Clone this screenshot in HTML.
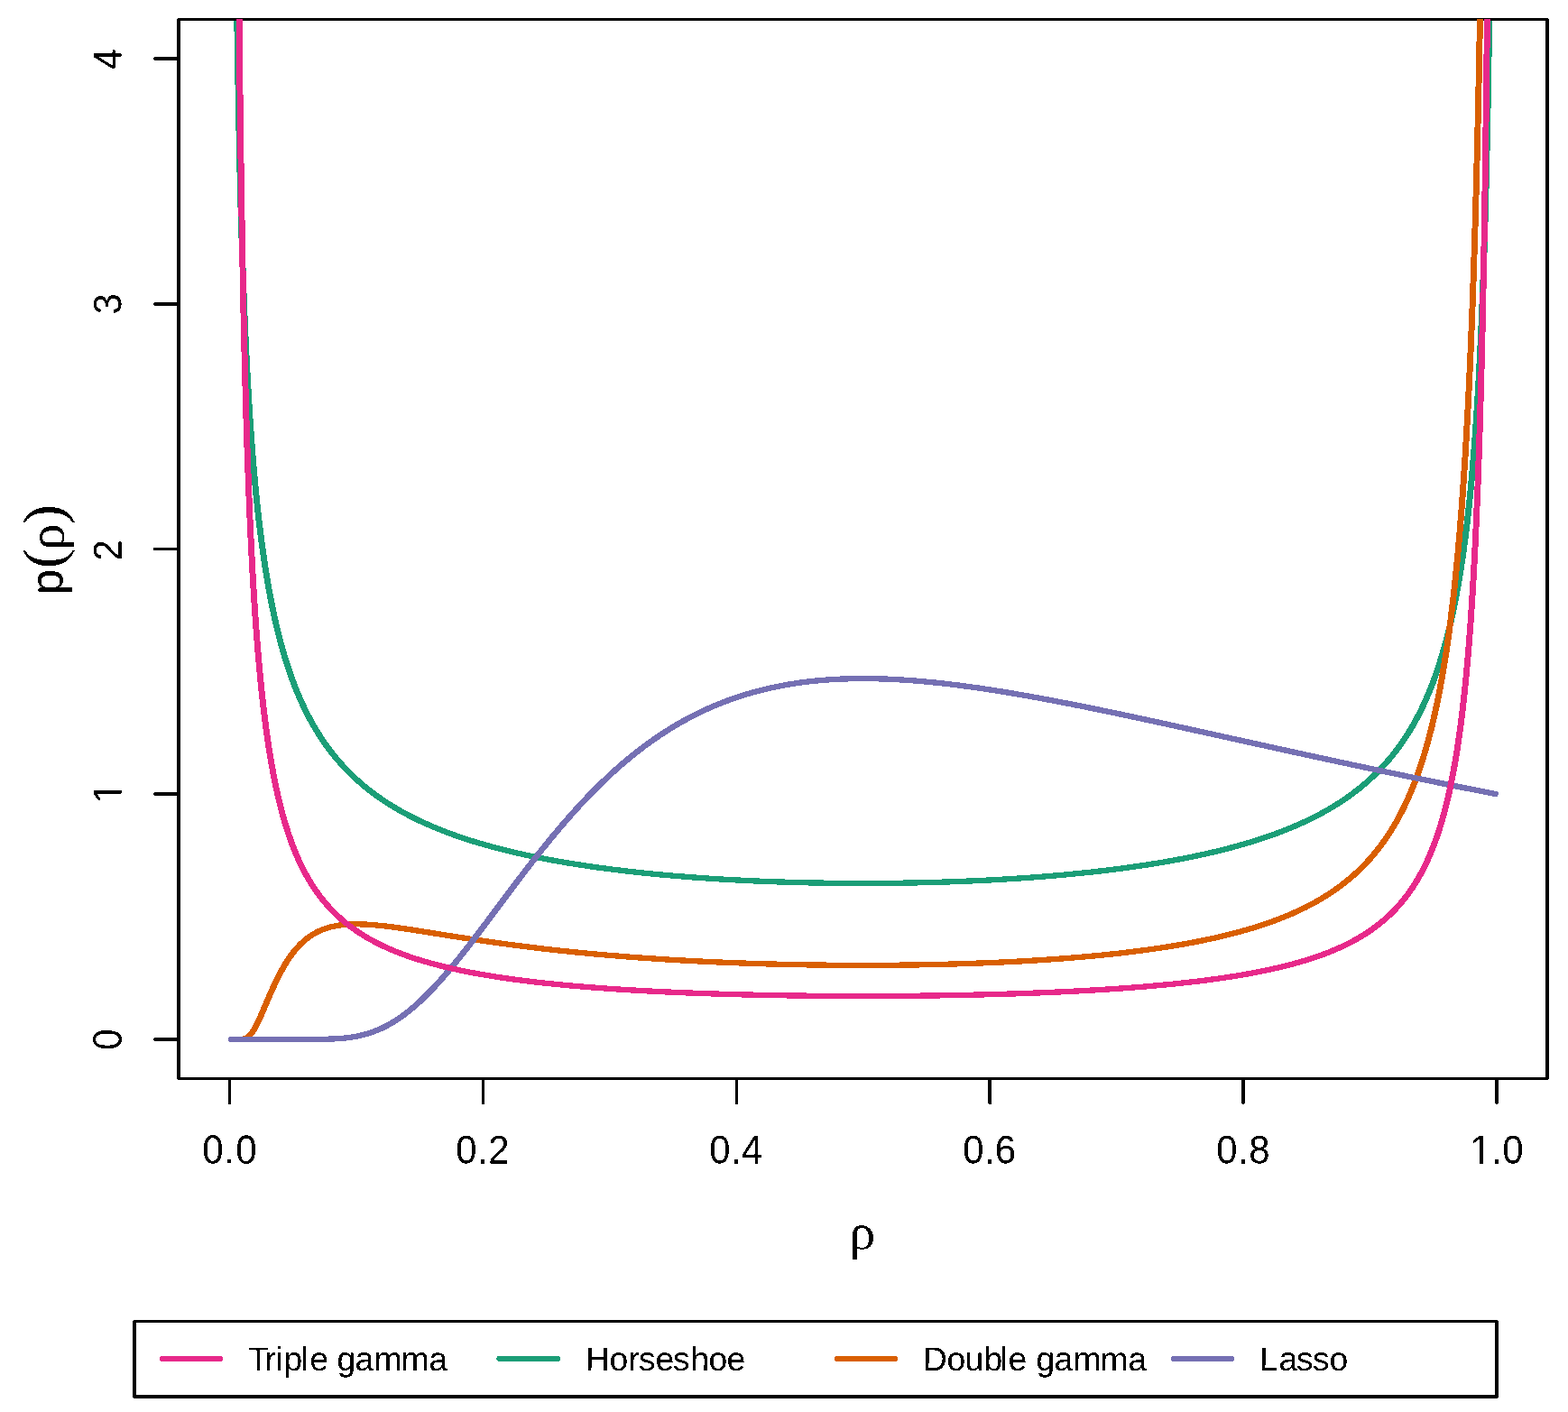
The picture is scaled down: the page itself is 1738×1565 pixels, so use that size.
<!DOCTYPE html>
<html lang="en"><head><meta charset="utf-8"><title>Shrinkage profiles</title>
<style>html,body{margin:0;padding:0;background:#fff;overflow:hidden}svg{display:block}text{font-family:"Liberation Sans",sans-serif;fill:#000;font-kerning:none;white-space:pre}.sym{font-family:"Liberation Serif",serif}</style></head><body>
<svg width="1738" height="1565" viewBox="0 0 1738 1565">
<rect width="1738" height="1565" fill="#fff"/>
<defs><clipPath id="clip"><rect x="198.0" y="21.0" width="1517.0" height="1174.5"/></clipPath><filter id="bw" x="-5%" y="-5%" width="110%" height="110%" color-interpolation-filters="sRGB"><feComponentTransfer><feFuncA type="discrete" tableValues="0 1"/></feComponentTransfer></filter><clipPath id="c1x"><path d="M-5.71,-36.16H24.15V-3.98H15.15V1H10.9V-3.98H-5.71ZM24.15,-45.2h54.24v58.76h-54.24z"/></clipPath><clipPath id="c1y"><path d="M-14.85,-36.16H15.01V-3.98H6.01V1H1.76V-3.98H-14.85Z"/></clipPath></defs>
<!-- Horseshoe -->
<g clip-path="url(#clip)"><g transform="scale(1.1,1)" fill="none" stroke-width="6.3" stroke-linecap="round" stroke-linejoin="round" shape-rendering="crispEdges">
<path d="M233.92,-478.50L235.19,-429.65L236.47,-218.44L237.75,-74.37L239.02,31.92L240.30,114.48L241.58,181.00L242.85,236.07L244.13,282.64L245.41,322.67L246.69,357.58L247.96,388.36L249.24,415.76L250.52,440.37L251.79,462.61L253.07,482.86L254.35,501.38L255.62,518.41L256.90,534.14L258.18,548.72L259.45,562.29L260.73,574.96L262.01,586.82L263.28,597.95L264.56,608.43L265.84,618.32L267.11,627.67L268.39,636.52L269.67,644.92L270.94,652.91L272.22,660.52L273.50,667.77L274.78,674.70L276.05,681.32L277.33,687.67L278.61,693.75L279.88,699.58L281.16,705.19L282.44,710.58L283.71,715.77L284.99,720.77L286.27,725.59L287.54,730.24L288.82,734.74L290.10,739.08L291.37,743.28L292.65,747.35L293.93,751.29L295.20,755.11L296.48,758.81L297.76,762.40L299.03,765.89L300.31,769.28L301.59,772.58L302.87,775.78L304.14,778.90L305.42,781.93L306.70,784.89L307.97,787.77L309.25,790.57L310.53,793.31L311.80,795.98L313.08,798.58L314.36,801.12L315.63,803.60L316.91,806.03L318.19,808.40L319.46,810.71L320.74,812.98L322.02,815.19L323.29,817.36L324.57,819.48L325.85,821.56L327.12,823.59L328.40,825.58L329.68,827.53L330.96,829.44L332.23,831.32L333.51,833.15L334.79,834.96L336.06,836.72L337.34,838.46L338.62,840.16L339.89,841.83L341.17,843.47L342.45,845.08L343.72,846.66L345.00,848.22L346.28,849.74L347.55,851.24L348.83,852.72L350.11,854.17L351.38,855.59L352.66,856.99L353.94,858.37L355.21,859.73L356.49,861.06L357.77,862.37L359.05,863.66L360.32,864.94L361.60,866.19L362.88,867.42L364.15,868.63L365.43,869.83L366.71,871.01L367.98,872.16L369.26,873.31L370.54,874.43L371.81,875.54L373.09,876.64L374.37,877.71L375.64,878.78L376.92,879.82L378.20,880.86L379.47,881.88L380.75,882.88L382.03,883.87L383.30,884.85L384.58,885.81L385.86,886.76L387.14,887.70L388.41,888.63L389.69,889.54L390.97,890.45L392.24,891.34L393.52,892.22L394.80,893.09L396.07,893.94L397.35,894.79L398.63,895.63L399.90,896.45L401.18,897.27L402.46,898.07L403.73,898.87L405.01,899.66L406.29,900.43L407.56,901.20L408.84,901.96L410.12,902.71L411.39,903.45L412.67,904.18L413.95,904.91L415.23,905.62L416.50,906.33L417.78,907.03L419.06,907.72L420.33,908.40L421.61,909.08L422.89,909.75L424.16,910.41L425.44,911.06L426.72,911.71L427.99,912.35L429.27,912.98L430.55,913.61L431.82,914.23L433.10,914.84L434.38,915.45L435.65,916.05L436.93,916.64L438.21,917.23L439.48,917.81L440.76,918.39L442.04,918.96L443.32,919.52L444.59,920.08L445.87,920.63L447.15,921.18L448.42,921.72L449.70,922.26L450.98,922.79L452.25,923.31L453.53,923.83L454.81,924.35L456.08,924.86L457.36,925.36L458.64,925.86L459.91,926.36L461.19,926.85L462.47,927.33L463.74,927.81L465.02,928.29L466.30,928.76L467.57,929.23L468.85,929.69L470.13,930.15L471.41,930.61L472.68,931.06L473.96,931.50L475.24,931.95L476.51,932.38L477.79,932.82L479.07,933.25L480.34,933.67L481.62,934.10L482.90,934.52L484.17,934.93L485.45,935.34L486.73,935.75L488.00,936.15L489.28,936.55L490.56,936.95L491.83,937.34L493.11,937.73L494.39,938.12L495.67,938.50L496.94,938.88L498.22,939.26L499.50,939.63L500.77,940.00L502.05,940.36L503.33,940.73L504.60,941.09L505.88,941.44L507.16,941.80L508.43,942.15L509.71,942.50L510.99,942.84L512.26,943.19L513.54,943.52L514.82,943.86L516.09,944.19L517.37,944.53L518.65,944.85L519.92,945.18L521.20,945.50L522.48,945.82L523.75,946.14L525.03,946.45L526.31,946.77L527.59,947.07L528.86,947.38L530.14,947.69L531.42,947.99L532.69,948.29L533.97,948.58L535.25,948.88L536.52,949.17L537.80,949.46L539.08,949.75L540.35,950.03L541.63,950.32L542.91,950.60L544.18,950.88L545.46,951.15L546.74,951.43L548.01,951.70L549.29,951.97L550.57,952.24L551.84,952.50L553.12,952.76L554.40,953.02L555.68,953.28L556.95,953.54L558.23,953.80L559.51,954.05L560.78,954.30L562.06,954.55L563.34,954.80L564.61,955.04L565.89,955.28L567.17,955.52L568.44,955.76L569.72,956.00L571.00,956.24L572.27,956.47L573.55,956.70L574.83,956.93L576.10,957.16L577.38,957.39L578.66,957.61L579.93,957.83L581.21,958.06L582.49,958.28L583.77,958.49L585.04,958.71L586.32,958.92L587.60,959.14L588.87,959.35L590.15,959.56L591.43,959.76L592.70,959.97L593.98,960.18L595.26,960.38L596.53,960.58L597.81,960.78L599.09,960.98L600.36,961.17L601.64,961.37L602.92,961.56L604.19,961.76L605.47,961.95L606.75,962.14L608.02,962.32L609.30,962.51L610.58,962.69L611.86,962.88L613.13,963.06L614.41,963.24L615.69,963.42L616.96,963.60L618.24,963.77L619.52,963.95L620.79,964.12L622.07,964.29L623.35,964.46L624.62,964.63L625.90,964.80L627.18,964.97L628.45,965.13L629.73,965.30L631.01,965.46L632.28,965.62L633.56,965.78L634.84,965.94L636.11,966.10L637.39,966.26L638.67,966.41L639.95,966.57L641.22,966.72L642.50,966.87L643.78,967.02L645.05,967.17L646.33,967.32L647.61,967.46L648.88,967.61L650.16,967.75L651.44,967.90L652.71,968.04L653.99,968.18L655.27,968.32L656.54,968.46L657.82,968.60L659.10,968.73L660.37,968.87L661.65,969.00L662.93,969.13L664.21,969.27L665.48,969.40L666.76,969.53L668.04,969.66L669.31,969.78L670.59,969.91L671.87,970.03L673.14,970.16L674.42,970.28L675.70,970.40L676.97,970.53L678.25,970.65L679.53,970.76L680.80,970.88L682.08,971.00L683.36,971.12L684.63,971.23L685.91,971.34L687.19,971.46L688.46,971.57L689.74,971.68L691.02,971.79L692.29,971.90L693.57,972.01L694.85,972.11L696.13,972.22L697.40,972.33L698.68,972.43L699.96,972.53L701.23,972.64L702.51,972.74L703.79,972.84L705.06,972.94L706.34,973.03L707.62,973.13L708.89,973.23L710.17,973.32L711.45,973.42L712.72,973.51L714.00,973.61L715.28,973.70L716.55,973.79L717.83,973.88L719.11,973.97L720.38,974.06L721.66,974.15L722.94,974.23L724.22,974.32L725.49,974.40L726.77,974.49L728.05,974.57L729.32,974.65L730.60,974.74L731.88,974.82L733.15,974.90L734.43,974.97L735.71,975.05L736.98,975.13L738.26,975.21L739.54,975.28L740.81,975.36L742.09,975.43L743.37,975.50L744.64,975.58L745.92,975.65L747.20,975.72L748.47,975.79L749.75,975.86L751.03,975.93L752.31,975.99L753.58,976.06L754.86,976.13L756.14,976.19L757.41,976.26L758.69,976.32L759.97,976.38L761.24,976.44L762.52,976.50L763.80,976.56L765.07,976.62L766.35,976.68L767.63,976.74L768.90,976.80L770.18,976.85L771.46,976.91L772.73,976.96L774.01,977.02L775.29,977.07L776.56,977.12L777.84,977.18L779.12,977.23L780.40,977.28L781.67,977.33L782.95,977.38L784.23,977.42L785.50,977.47L786.78,977.52L788.06,977.56L789.33,977.61L790.61,977.65L791.89,977.70L793.16,977.74L794.44,977.78L795.72,977.82L796.99,977.86L798.27,977.90L799.55,977.94L800.82,977.98L802.10,978.02L803.38,978.06L804.65,978.09L805.93,978.13L807.21,978.16L808.49,978.20L809.76,978.23L811.04,978.26L812.32,978.29L813.59,978.32L814.87,978.36L816.15,978.38L817.42,978.41L818.70,978.44L819.98,978.47L821.25,978.50L822.53,978.52L823.81,978.55L825.08,978.57L826.36,978.60L827.64,978.62L828.91,978.64L830.19,978.67L831.47,978.69L832.74,978.71L834.02,978.73L835.30,978.75L836.58,978.76L837.85,978.78L839.13,978.80L840.41,978.82L841.68,978.83L842.96,978.85L844.24,978.86L845.51,978.87L846.79,978.89L848.07,978.90L849.34,978.91L850.62,978.92L851.90,978.93L853.17,978.94L854.45,978.95L855.73,978.96L857.00,978.96L858.28,978.97L859.56,978.98L860.83,978.98L862.11,978.99L863.39,978.99L864.67,978.99L865.94,979.00L867.22,979.00L868.50,979.00L869.77,979.00L871.05,979.00L872.33,979.00L873.60,979.00L874.88,978.99L876.16,978.99L877.43,978.99L878.71,978.98L879.99,978.98L881.26,978.97L882.54,978.96L883.82,978.96L885.09,978.95L886.37,978.94L887.65,978.93L888.92,978.92L890.20,978.91L891.48,978.90L892.76,978.89L894.03,978.87L895.31,978.86L896.59,978.85L897.86,978.83L899.14,978.82L900.42,978.80L901.69,978.78L902.97,978.76L904.25,978.75L905.52,978.73L906.80,978.71L908.08,978.69L909.35,978.67L910.63,978.64L911.91,978.62L913.18,978.60L914.46,978.57L915.74,978.55L917.01,978.52L918.29,978.50L919.57,978.47L920.85,978.44L922.12,978.41L923.40,978.38L924.68,978.36L925.95,978.32L927.23,978.29L928.51,978.26L929.78,978.23L931.06,978.20L932.34,978.16L933.61,978.13L934.89,978.09L936.17,978.06L937.44,978.02L938.72,977.98L940.00,977.94L941.27,977.90L942.55,977.86L943.83,977.82L945.11,977.78L946.38,977.74L947.66,977.70L948.94,977.65L950.21,977.61L951.49,977.56L952.77,977.52L954.04,977.47L955.32,977.42L956.60,977.38L957.87,977.33L959.15,977.28L960.43,977.23L961.70,977.18L962.98,977.12L964.26,977.07L965.53,977.02L966.81,976.96L968.09,976.91L969.36,976.85L970.64,976.80L971.92,976.74L973.19,976.68L974.47,976.62L975.75,976.56L977.03,976.50L978.30,976.44L979.58,976.38L980.86,976.32L982.13,976.26L983.41,976.19L984.69,976.13L985.96,976.06L987.24,975.99L988.52,975.93L989.79,975.86L991.07,975.79L992.35,975.72L993.62,975.65L994.90,975.58L996.18,975.50L997.45,975.43L998.73,975.36L1000.01,975.28L1001.28,975.21L1002.56,975.13L1003.84,975.05L1005.12,974.97L1006.39,974.90L1007.67,974.82L1008.95,974.74L1010.22,974.65L1011.50,974.57L1012.78,974.49L1014.05,974.40L1015.33,974.32L1016.61,974.23L1017.88,974.15L1019.16,974.06L1020.44,973.97L1021.71,973.88L1022.99,973.79L1024.27,973.70L1025.54,973.61L1026.82,973.51L1028.10,973.42L1029.38,973.32L1030.65,973.23L1031.93,973.13L1033.21,973.03L1034.48,972.94L1035.76,972.84L1037.04,972.74L1038.31,972.64L1039.59,972.53L1040.87,972.43L1042.14,972.33L1043.42,972.22L1044.70,972.11L1045.97,972.01L1047.25,971.90L1048.53,971.79L1049.80,971.68L1051.08,971.57L1052.36,971.46L1053.63,971.34L1054.91,971.23L1056.19,971.12L1057.46,971.00L1058.74,970.88L1060.02,970.76L1061.30,970.65L1062.57,970.53L1063.85,970.40L1065.13,970.28L1066.40,970.16L1067.68,970.03L1068.96,969.91L1070.23,969.78L1071.51,969.66L1072.79,969.53L1074.06,969.40L1075.34,969.27L1076.62,969.13L1077.89,969.00L1079.17,968.87L1080.45,968.73L1081.72,968.60L1083.00,968.46L1084.28,968.32L1085.55,968.18L1086.83,968.04L1088.11,967.90L1089.39,967.75L1090.66,967.61L1091.94,967.46L1093.22,967.32L1094.49,967.17L1095.77,967.02L1097.05,966.87L1098.32,966.72L1099.60,966.57L1100.88,966.41L1102.15,966.26L1103.43,966.10L1104.71,965.94L1105.98,965.78L1107.26,965.62L1108.54,965.46L1109.81,965.30L1111.09,965.13L1112.37,964.97L1113.64,964.80L1114.92,964.63L1116.20,964.46L1117.48,964.29L1118.75,964.12L1120.03,963.95L1121.31,963.77L1122.58,963.60L1123.86,963.42L1125.14,963.24L1126.41,963.06L1127.69,962.88L1128.97,962.69L1130.24,962.51L1131.52,962.32L1132.80,962.14L1134.07,961.95L1135.35,961.76L1136.63,961.56L1137.90,961.37L1139.18,961.17L1140.46,960.98L1141.73,960.78L1143.01,960.58L1144.29,960.38L1145.57,960.18L1146.84,959.97L1148.12,959.76L1149.40,959.56L1150.67,959.35L1151.95,959.14L1153.23,958.92L1154.50,958.71L1155.78,958.49L1157.06,958.28L1158.33,958.06L1159.61,957.83L1160.89,957.61L1162.16,957.39L1163.44,957.16L1164.72,956.93L1165.99,956.70L1167.27,956.47L1168.55,956.24L1169.82,956.00L1171.10,955.76L1172.38,955.52L1173.66,955.28L1174.93,955.04L1176.21,954.80L1177.49,954.55L1178.76,954.30L1180.04,954.05L1181.32,953.80L1182.59,953.54L1183.87,953.28L1185.15,953.02L1186.42,952.76L1187.70,952.50L1188.98,952.24L1190.25,951.97L1191.53,951.70L1192.81,951.43L1194.08,951.15L1195.36,950.88L1196.64,950.60L1197.91,950.32L1199.19,950.03L1200.47,949.75L1201.75,949.46L1203.02,949.17L1204.30,948.88L1205.58,948.58L1206.85,948.29L1208.13,947.99L1209.41,947.69L1210.68,947.38L1211.96,947.07L1213.24,946.77L1214.51,946.45L1215.79,946.14L1217.07,945.82L1218.34,945.50L1219.62,945.18L1220.90,944.85L1222.17,944.53L1223.45,944.19L1224.73,943.86L1226.01,943.52L1227.28,943.19L1228.56,942.84L1229.84,942.50L1231.11,942.15L1232.39,941.80L1233.67,941.44L1234.94,941.09L1236.22,940.73L1237.50,940.36L1238.77,940.00L1240.05,939.63L1241.33,939.26L1242.60,938.88L1243.88,938.50L1245.16,938.12L1246.43,937.73L1247.71,937.34L1248.99,936.95L1250.26,936.55L1251.54,936.15L1252.82,935.75L1254.09,935.34L1255.37,934.93L1256.65,934.52L1257.93,934.10L1259.20,933.67L1260.48,933.25L1261.76,932.82L1263.03,932.38L1264.31,931.95L1265.59,931.50L1266.86,931.06L1268.14,930.61L1269.42,930.15L1270.69,929.69L1271.97,929.23L1273.25,928.76L1274.52,928.29L1275.80,927.81L1277.08,927.33L1278.35,926.85L1279.63,926.36L1280.91,925.86L1282.18,925.36L1283.46,924.86L1284.74,924.35L1286.02,923.83L1287.29,923.31L1288.57,922.79L1289.85,922.26L1291.12,921.72L1292.40,921.18L1293.68,920.63L1294.95,920.08L1296.23,919.52L1297.51,918.96L1298.78,918.39L1300.06,917.81L1301.34,917.23L1302.61,916.64L1303.89,916.05L1305.17,915.45L1306.44,914.84L1307.72,914.23L1309.00,913.61L1310.27,912.98L1311.55,912.35L1312.83,911.71L1314.11,911.06L1315.38,910.41L1316.66,909.75L1317.94,909.08L1319.21,908.40L1320.49,907.72L1321.77,907.03L1323.04,906.33L1324.32,905.62L1325.60,904.91L1326.87,904.18L1328.15,903.45L1329.43,902.71L1330.70,901.96L1331.98,901.20L1333.26,900.43L1334.53,899.66L1335.81,898.87L1337.09,898.07L1338.36,897.27L1339.64,896.45L1340.92,895.63L1342.20,894.79L1343.47,893.94L1344.75,893.09L1346.03,892.22L1347.30,891.34L1348.58,890.45L1349.86,889.54L1351.13,888.63L1352.41,887.70L1353.69,886.76L1354.96,885.81L1356.24,884.85L1357.52,883.87L1358.79,882.88L1360.07,881.88L1361.35,880.86L1362.62,879.82L1363.90,878.78L1365.18,877.71L1366.45,876.64L1367.73,875.54L1369.01,874.43L1370.29,873.31L1371.56,872.16L1372.84,871.01L1374.12,869.83L1375.39,868.63L1376.67,867.42L1377.95,866.19L1379.22,864.94L1380.50,863.66L1381.78,862.37L1383.05,861.06L1384.33,859.73L1385.61,858.37L1386.88,856.99L1388.16,855.59L1389.44,854.17L1390.71,852.72L1391.99,851.24L1393.27,849.74L1394.55,848.22L1395.82,846.66L1397.10,845.08L1398.38,843.47L1399.65,841.83L1400.93,840.16L1402.21,838.46L1403.48,836.72L1404.76,834.96L1406.04,833.15L1407.31,831.32L1408.59,829.44L1409.87,827.53L1411.14,825.58L1412.42,823.59L1413.70,821.56L1414.97,819.48L1416.25,817.36L1417.53,815.19L1418.80,812.98L1420.08,810.71L1421.36,808.40L1422.63,806.03L1423.91,803.60L1425.19,801.12L1426.47,798.58L1427.74,795.98L1429.02,793.31L1430.30,790.57L1431.57,787.77L1432.85,784.89L1434.13,781.93L1435.40,778.90L1436.68,775.78L1437.96,772.58L1439.23,769.28L1440.51,765.89L1441.79,762.40L1443.06,758.81L1444.34,755.11L1445.62,751.29L1446.89,747.35L1448.17,743.28L1449.45,739.08L1450.72,734.74L1452.00,730.24L1453.28,725.59L1454.56,720.77L1455.83,715.77L1457.11,710.58L1458.39,705.19L1459.66,699.58L1460.94,693.75L1462.22,687.67L1463.49,681.32L1464.77,674.70L1466.05,667.77L1467.32,660.52L1468.60,652.91L1469.88,644.92L1471.15,636.52L1472.43,627.67L1473.71,618.32L1474.98,608.43L1476.26,597.95L1477.54,586.82L1478.81,574.96L1480.09,562.29L1481.37,548.72L1482.65,534.14L1483.92,518.41L1485.20,501.38L1486.48,482.86L1487.75,462.61L1489.03,440.37L1490.31,415.76L1491.58,388.36L1492.86,357.58L1494.14,322.67L1495.41,282.64L1496.69,236.07L1497.97,181.00L1499.24,114.48L1500.52,31.92L1501.80,-74.37L1503.07,-218.44L1504.35,-429.65L1505.63,-478.50" stroke="#1B9E77"/>
</g></g>
<!-- plot box and axes -->
<g fill="none" stroke="#000" stroke-width="3.5" stroke-linecap="round" stroke-linejoin="round" shape-rendering="crispEdges">
<rect x="198.0" y="21.5" width="1517.0" height="1174.0"/>
<path d="M254.5,1195.5H1659.0M254.5,1195.5v26.9M535.4,1195.5v26.9M816.3,1195.5v26.9M1097.2,1195.5v26.9M1378.1,1195.5v26.9M1659,1195.5v26.9"/>
<path d="M198.0,1152V65M198.0,1152h-26.4M198.0,880h-26.4M198.0,608.5h-26.4M198.0,337h-26.4M198.0,65h-26.4"/>
</g>
<!-- Double gamma, Lasso, Triple gamma -->
<g clip-path="url(#clip)"><g transform="scale(1.1,1)" fill="none" stroke-width="6.3" stroke-linecap="round" stroke-linejoin="round" shape-rendering="crispEdges">
<path d="M232.64,1152.00L233.92,1152.00L235.19,1152.00L236.47,1152.00L237.75,1152.00L239.02,1152.00L240.30,1152.00L241.58,1151.98L242.85,1151.93L244.13,1151.82L245.41,1151.59L246.69,1151.21L247.96,1150.62L249.24,1149.80L250.52,1148.72L251.79,1147.36L253.07,1145.72L254.35,1143.82L255.62,1141.66L256.90,1139.28L258.18,1136.69L259.45,1133.92L260.73,1131.00L262.01,1127.96L263.28,1124.82L264.56,1121.61L265.84,1118.35L267.11,1115.07L268.39,1111.77L269.67,1108.48L270.94,1105.21L272.22,1101.98L273.50,1098.79L274.78,1095.66L276.05,1092.59L277.33,1089.59L278.61,1086.66L279.88,1083.80L281.16,1081.03L282.44,1078.34L283.71,1075.74L284.99,1073.22L286.27,1070.79L287.54,1068.44L288.82,1066.17L290.10,1063.99L291.37,1061.90L292.65,1059.88L293.93,1057.95L295.20,1056.09L296.48,1054.31L297.76,1052.61L299.03,1050.98L300.31,1049.42L301.59,1047.93L302.87,1046.50L304.14,1045.14L305.42,1043.84L306.70,1042.60L307.97,1041.43L309.25,1040.30L310.53,1039.24L311.80,1038.22L313.08,1037.26L314.36,1036.34L315.63,1035.47L316.91,1034.65L318.19,1033.87L319.46,1033.13L320.74,1032.44L322.02,1031.78L323.29,1031.16L324.57,1030.58L325.85,1030.03L327.12,1029.51L328.40,1029.02L329.68,1028.57L330.96,1028.15L332.23,1027.75L333.51,1027.38L334.79,1027.04L336.06,1026.72L337.34,1026.43L338.62,1026.16L339.89,1025.91L341.17,1025.68L342.45,1025.48L343.72,1025.29L345.00,1025.12L346.28,1024.97L347.55,1024.84L348.83,1024.72L350.11,1024.62L351.38,1024.54L352.66,1024.47L353.94,1024.41L355.21,1024.37L356.49,1024.34L357.77,1024.32L359.05,1024.31L360.32,1024.32L361.60,1024.34L362.88,1024.36L364.15,1024.40L365.43,1024.45L366.71,1024.50L367.98,1024.57L369.26,1024.64L370.54,1024.72L371.81,1024.81L373.09,1024.90L374.37,1025.01L375.64,1025.12L376.92,1025.23L378.20,1025.35L379.47,1025.48L380.75,1025.61L382.03,1025.75L383.30,1025.90L384.58,1026.05L385.86,1026.20L387.14,1026.36L388.41,1026.52L389.69,1026.68L390.97,1026.85L392.24,1027.03L393.52,1027.20L394.80,1027.39L396.07,1027.57L397.35,1027.75L398.63,1027.94L399.90,1028.14L401.18,1028.33L402.46,1028.53L403.73,1028.72L405.01,1028.93L406.29,1029.13L407.56,1029.33L408.84,1029.54L410.12,1029.75L411.39,1029.96L412.67,1030.17L413.95,1030.38L415.23,1030.59L416.50,1030.81L417.78,1031.02L419.06,1031.24L420.33,1031.46L421.61,1031.68L422.89,1031.90L424.16,1032.12L425.44,1032.34L426.72,1032.56L427.99,1032.78L429.27,1033.00L430.55,1033.23L431.82,1033.45L433.10,1033.67L434.38,1033.90L435.65,1034.12L436.93,1034.34L438.21,1034.57L439.48,1034.79L440.76,1035.01L442.04,1035.24L443.32,1035.46L444.59,1035.69L445.87,1035.91L447.15,1036.13L448.42,1036.35L449.70,1036.58L450.98,1036.80L452.25,1037.02L453.53,1037.24L454.81,1037.46L456.08,1037.69L457.36,1037.91L458.64,1038.13L459.91,1038.35L461.19,1038.56L462.47,1038.78L463.74,1039.00L465.02,1039.22L466.30,1039.43L467.57,1039.65L468.85,1039.87L470.13,1040.08L471.41,1040.29L472.68,1040.51L473.96,1040.72L475.24,1040.93L476.51,1041.14L477.79,1041.35L479.07,1041.56L480.34,1041.77L481.62,1041.98L482.90,1042.19L484.17,1042.40L485.45,1042.60L486.73,1042.81L488.00,1043.01L489.28,1043.21L490.56,1043.42L491.83,1043.62L493.11,1043.82L494.39,1044.02L495.67,1044.22L496.94,1044.42L498.22,1044.62L499.50,1044.81L500.77,1045.01L502.05,1045.20L503.33,1045.40L504.60,1045.59L505.88,1045.78L507.16,1045.97L508.43,1046.16L509.71,1046.35L510.99,1046.54L512.26,1046.73L513.54,1046.92L514.82,1047.10L516.09,1047.29L517.37,1047.47L518.65,1047.66L519.92,1047.84L521.20,1048.02L522.48,1048.20L523.75,1048.38L525.03,1048.56L526.31,1048.74L527.59,1048.91L528.86,1049.09L530.14,1049.26L531.42,1049.44L532.69,1049.61L533.97,1049.78L535.25,1049.96L536.52,1050.13L537.80,1050.30L539.08,1050.46L540.35,1050.63L541.63,1050.80L542.91,1050.97L544.18,1051.13L545.46,1051.29L546.74,1051.46L548.01,1051.62L549.29,1051.78L550.57,1051.94L551.84,1052.10L553.12,1052.26L554.40,1052.42L555.68,1052.58L556.95,1052.73L558.23,1052.89L559.51,1053.04L560.78,1053.19L562.06,1053.35L563.34,1053.50L564.61,1053.65L565.89,1053.80L567.17,1053.95L568.44,1054.10L569.72,1054.24L571.00,1054.39L572.27,1054.54L573.55,1054.68L574.83,1054.82L576.10,1054.97L577.38,1055.11L578.66,1055.25L579.93,1055.39L581.21,1055.53L582.49,1055.67L583.77,1055.81L585.04,1055.94L586.32,1056.08L587.60,1056.22L588.87,1056.35L590.15,1056.48L591.43,1056.62L592.70,1056.75L593.98,1056.88L595.26,1057.01L596.53,1057.14L597.81,1057.27L599.09,1057.40L600.36,1057.53L601.64,1057.65L602.92,1057.78L604.19,1057.90L605.47,1058.03L606.75,1058.15L608.02,1058.27L609.30,1058.39L610.58,1058.52L611.86,1058.64L613.13,1058.76L614.41,1058.87L615.69,1058.99L616.96,1059.11L618.24,1059.23L619.52,1059.34L620.79,1059.46L622.07,1059.57L623.35,1059.68L624.62,1059.80L625.90,1059.91L627.18,1060.02L628.45,1060.13L629.73,1060.24L631.01,1060.35L632.28,1060.46L633.56,1060.56L634.84,1060.67L636.11,1060.78L637.39,1060.88L638.67,1060.98L639.95,1061.09L641.22,1061.19L642.50,1061.29L643.78,1061.40L645.05,1061.50L646.33,1061.60L647.61,1061.70L648.88,1061.80L650.16,1061.89L651.44,1061.99L652.71,1062.09L653.99,1062.18L655.27,1062.28L656.54,1062.37L657.82,1062.47L659.10,1062.56L660.37,1062.65L661.65,1062.75L662.93,1062.84L664.21,1062.93L665.48,1063.02L666.76,1063.11L668.04,1063.19L669.31,1063.28L670.59,1063.37L671.87,1063.46L673.14,1063.54L674.42,1063.63L675.70,1063.71L676.97,1063.80L678.25,1063.88L679.53,1063.96L680.80,1064.04L682.08,1064.13L683.36,1064.21L684.63,1064.29L685.91,1064.37L687.19,1064.44L688.46,1064.52L689.74,1064.60L691.02,1064.68L692.29,1064.75L693.57,1064.83L694.85,1064.90L696.13,1064.98L697.40,1065.05L698.68,1065.13L699.96,1065.20L701.23,1065.27L702.51,1065.34L703.79,1065.41L705.06,1065.48L706.34,1065.55L707.62,1065.62L708.89,1065.69L710.17,1065.76L711.45,1065.82L712.72,1065.89L714.00,1065.96L715.28,1066.02L716.55,1066.09L717.83,1066.15L719.11,1066.22L720.38,1066.28L721.66,1066.34L722.94,1066.40L724.22,1066.46L725.49,1066.52L726.77,1066.58L728.05,1066.64L729.32,1066.70L730.60,1066.76L731.88,1066.82L733.15,1066.88L734.43,1066.93L735.71,1066.99L736.98,1067.04L738.26,1067.10L739.54,1067.15L740.81,1067.21L742.09,1067.26L743.37,1067.31L744.64,1067.37L745.92,1067.42L747.20,1067.47L748.47,1067.52L749.75,1067.57L751.03,1067.62L752.31,1067.67L753.58,1067.72L754.86,1067.76L756.14,1067.81L757.41,1067.86L758.69,1067.90L759.97,1067.95L761.24,1067.99L762.52,1068.04L763.80,1068.08L765.07,1068.12L766.35,1068.17L767.63,1068.21L768.90,1068.25L770.18,1068.29L771.46,1068.33L772.73,1068.37L774.01,1068.41L775.29,1068.45L776.56,1068.49L777.84,1068.53L779.12,1068.56L780.40,1068.60L781.67,1068.64L782.95,1068.67L784.23,1068.71L785.50,1068.74L786.78,1068.78L788.06,1068.81L789.33,1068.84L790.61,1068.88L791.89,1068.91L793.16,1068.94L794.44,1068.97L795.72,1069.00L796.99,1069.03L798.27,1069.06L799.55,1069.09L800.82,1069.12L802.10,1069.15L803.38,1069.17L804.65,1069.20L805.93,1069.23L807.21,1069.25L808.49,1069.28L809.76,1069.30L811.04,1069.33L812.32,1069.35L813.59,1069.37L814.87,1069.40L816.15,1069.42L817.42,1069.44L818.70,1069.46L819.98,1069.48L821.25,1069.50L822.53,1069.52L823.81,1069.54L825.08,1069.56L826.36,1069.58L827.64,1069.59L828.91,1069.61L830.19,1069.63L831.47,1069.64L832.74,1069.66L834.02,1069.67L835.30,1069.69L836.58,1069.70L837.85,1069.71L839.13,1069.73L840.41,1069.74L841.68,1069.75L842.96,1069.76L844.24,1069.77L845.51,1069.78L846.79,1069.79L848.07,1069.80L849.34,1069.81L850.62,1069.82L851.90,1069.83L853.17,1069.83L854.45,1069.84L855.73,1069.85L857.00,1069.85L858.28,1069.86L859.56,1069.86L860.83,1069.87L862.11,1069.87L863.39,1069.87L864.67,1069.87L865.94,1069.88L867.22,1069.88L868.50,1069.88L869.77,1069.88L871.05,1069.88L872.33,1069.88L873.60,1069.88L874.88,1069.87L876.16,1069.87L877.43,1069.87L878.71,1069.87L879.99,1069.86L881.26,1069.86L882.54,1069.85L883.82,1069.85L885.09,1069.84L886.37,1069.83L887.65,1069.83L888.92,1069.82L890.20,1069.81L891.48,1069.80L892.76,1069.79L894.03,1069.78L895.31,1069.77L896.59,1069.76L897.86,1069.75L899.14,1069.74L900.42,1069.73L901.69,1069.71L902.97,1069.70L904.25,1069.68L905.52,1069.67L906.80,1069.65L908.08,1069.64L909.35,1069.62L910.63,1069.61L911.91,1069.59L913.18,1069.57L914.46,1069.55L915.74,1069.53L917.01,1069.51L918.29,1069.49L919.57,1069.47L920.85,1069.45L922.12,1069.43L923.40,1069.41L924.68,1069.38L925.95,1069.36L927.23,1069.33L928.51,1069.31L929.78,1069.28L931.06,1069.26L932.34,1069.23L933.61,1069.20L934.89,1069.18L936.17,1069.15L937.44,1069.12L938.72,1069.09L940.00,1069.06L941.27,1069.03L942.55,1069.00L943.83,1068.97L945.11,1068.93L946.38,1068.90L947.66,1068.87L948.94,1068.83L950.21,1068.80L951.49,1068.76L952.77,1068.73L954.04,1068.69L955.32,1068.65L956.60,1068.62L957.87,1068.58L959.15,1068.54L960.43,1068.50L961.70,1068.46L962.98,1068.42L964.26,1068.38L965.53,1068.33L966.81,1068.29L968.09,1068.25L969.36,1068.20L970.64,1068.16L971.92,1068.11L973.19,1068.07L974.47,1068.02L975.75,1067.98L977.03,1067.93L978.30,1067.88L979.58,1067.83L980.86,1067.78L982.13,1067.73L983.41,1067.68L984.69,1067.63L985.96,1067.57L987.24,1067.52L988.52,1067.47L989.79,1067.41L991.07,1067.36L992.35,1067.30L993.62,1067.24L994.90,1067.19L996.18,1067.13L997.45,1067.07L998.73,1067.01L1000.01,1066.95L1001.28,1066.89L1002.56,1066.83L1003.84,1066.77L1005.12,1066.70L1006.39,1066.64L1007.67,1066.58L1008.95,1066.51L1010.22,1066.45L1011.50,1066.38L1012.78,1066.31L1014.05,1066.24L1015.33,1066.18L1016.61,1066.11L1017.88,1066.04L1019.16,1065.96L1020.44,1065.89L1021.71,1065.82L1022.99,1065.75L1024.27,1065.67L1025.54,1065.60L1026.82,1065.52L1028.10,1065.45L1029.38,1065.37L1030.65,1065.29L1031.93,1065.21L1033.21,1065.13L1034.48,1065.05L1035.76,1064.97L1037.04,1064.89L1038.31,1064.81L1039.59,1064.72L1040.87,1064.64L1042.14,1064.55L1043.42,1064.47L1044.70,1064.38L1045.97,1064.29L1047.25,1064.20L1048.53,1064.11L1049.80,1064.02L1051.08,1063.93L1052.36,1063.84L1053.63,1063.74L1054.91,1063.65L1056.19,1063.56L1057.46,1063.46L1058.74,1063.36L1060.02,1063.26L1061.30,1063.17L1062.57,1063.07L1063.85,1062.97L1065.13,1062.86L1066.40,1062.76L1067.68,1062.66L1068.96,1062.55L1070.23,1062.45L1071.51,1062.34L1072.79,1062.24L1074.06,1062.13L1075.34,1062.02L1076.62,1061.91L1077.89,1061.80L1079.17,1061.68L1080.45,1061.57L1081.72,1061.46L1083.00,1061.34L1084.28,1061.23L1085.55,1061.11L1086.83,1060.99L1088.11,1060.87L1089.39,1060.75L1090.66,1060.63L1091.94,1060.50L1093.22,1060.38L1094.49,1060.26L1095.77,1060.13L1097.05,1060.00L1098.32,1059.87L1099.60,1059.74L1100.88,1059.61L1102.15,1059.48L1103.43,1059.35L1104.71,1059.21L1105.98,1059.08L1107.26,1058.94L1108.54,1058.80L1109.81,1058.66L1111.09,1058.52L1112.37,1058.38L1113.64,1058.24L1114.92,1058.10L1116.20,1057.95L1117.48,1057.80L1118.75,1057.66L1120.03,1057.51L1121.31,1057.36L1122.58,1057.20L1123.86,1057.05L1125.14,1056.90L1126.41,1056.74L1127.69,1056.58L1128.97,1056.42L1130.24,1056.26L1131.52,1056.10L1132.80,1055.94L1134.07,1055.77L1135.35,1055.61L1136.63,1055.44L1137.90,1055.27L1139.18,1055.10L1140.46,1054.93L1141.73,1054.76L1143.01,1054.58L1144.29,1054.41L1145.57,1054.23L1146.84,1054.05L1148.12,1053.87L1149.40,1053.69L1150.67,1053.50L1151.95,1053.32L1153.23,1053.13L1154.50,1052.94L1155.78,1052.75L1157.06,1052.55L1158.33,1052.36L1159.61,1052.16L1160.89,1051.97L1162.16,1051.77L1163.44,1051.57L1164.72,1051.36L1165.99,1051.16L1167.27,1050.95L1168.55,1050.74L1169.82,1050.53L1171.10,1050.32L1172.38,1050.10L1173.66,1049.89L1174.93,1049.67L1176.21,1049.45L1177.49,1049.23L1178.76,1049.00L1180.04,1048.78L1181.32,1048.55L1182.59,1048.32L1183.87,1048.08L1185.15,1047.85L1186.42,1047.61L1187.70,1047.37L1188.98,1047.13L1190.25,1046.89L1191.53,1046.64L1192.81,1046.40L1194.08,1046.15L1195.36,1045.89L1196.64,1045.64L1197.91,1045.38L1199.19,1045.12L1200.47,1044.86L1201.75,1044.59L1203.02,1044.33L1204.30,1044.06L1205.58,1043.78L1206.85,1043.51L1208.13,1043.23L1209.41,1042.95L1210.68,1042.67L1211.96,1042.38L1213.24,1042.10L1214.51,1041.81L1215.79,1041.51L1217.07,1041.21L1218.34,1040.92L1219.62,1040.61L1220.90,1040.31L1222.17,1040.00L1223.45,1039.69L1224.73,1039.37L1226.01,1039.06L1227.28,1038.74L1228.56,1038.41L1229.84,1038.08L1231.11,1037.75L1232.39,1037.42L1233.67,1037.08L1234.94,1036.74L1236.22,1036.40L1237.50,1036.05L1238.77,1035.70L1240.05,1035.35L1241.33,1034.99L1242.60,1034.63L1243.88,1034.26L1245.16,1033.89L1246.43,1033.52L1247.71,1033.14L1248.99,1032.76L1250.26,1032.38L1251.54,1031.99L1252.82,1031.59L1254.09,1031.20L1255.37,1030.80L1256.65,1030.39L1257.93,1029.98L1259.20,1029.57L1260.48,1029.15L1261.76,1028.72L1263.03,1028.30L1264.31,1027.86L1265.59,1027.43L1266.86,1026.98L1268.14,1026.54L1269.42,1026.08L1270.69,1025.63L1271.97,1025.16L1273.25,1024.70L1274.52,1024.22L1275.80,1023.75L1277.08,1023.26L1278.35,1022.77L1279.63,1022.28L1280.91,1021.78L1282.18,1021.27L1283.46,1020.76L1284.74,1020.24L1286.02,1019.72L1287.29,1019.19L1288.57,1018.65L1289.85,1018.11L1291.12,1017.56L1292.40,1017.00L1293.68,1016.44L1294.95,1015.87L1296.23,1015.29L1297.51,1014.70L1298.78,1014.11L1300.06,1013.51L1301.34,1012.91L1302.61,1012.29L1303.89,1011.67L1305.17,1011.04L1306.44,1010.41L1307.72,1009.76L1309.00,1009.11L1310.27,1008.44L1311.55,1007.77L1312.83,1007.09L1314.11,1006.40L1315.38,1005.71L1316.66,1005.00L1317.94,1004.28L1319.21,1003.55L1320.49,1002.82L1321.77,1002.07L1323.04,1001.32L1324.32,1000.55L1325.60,999.77L1326.87,998.98L1328.15,998.18L1329.43,997.37L1330.70,996.55L1331.98,995.71L1333.26,994.86L1334.53,994.01L1335.81,993.13L1337.09,992.25L1338.36,991.35L1339.64,990.44L1340.92,989.51L1342.20,988.57L1343.47,987.62L1344.75,986.65L1346.03,985.67L1347.30,984.67L1348.58,983.66L1349.86,982.63L1351.13,981.58L1352.41,980.51L1353.69,979.43L1354.96,978.33L1356.24,977.22L1357.52,976.08L1358.79,974.93L1360.07,973.75L1361.35,972.56L1362.62,971.35L1363.90,970.11L1365.18,968.85L1366.45,967.57L1367.73,966.27L1369.01,964.95L1370.29,963.60L1371.56,962.22L1372.84,960.82L1374.12,959.40L1375.39,957.95L1376.67,956.47L1377.95,954.96L1379.22,953.42L1380.50,951.86L1381.78,950.26L1383.05,948.63L1384.33,946.97L1385.61,945.28L1386.88,943.55L1388.16,941.78L1389.44,939.98L1390.71,938.14L1391.99,936.26L1393.27,934.34L1394.55,932.38L1395.82,930.38L1397.10,928.33L1398.38,926.24L1399.65,924.09L1400.93,921.90L1402.21,919.66L1403.48,917.37L1404.76,915.02L1406.04,912.61L1407.31,910.15L1408.59,907.62L1409.87,905.03L1411.14,902.38L1412.42,899.65L1413.70,896.86L1414.97,893.99L1416.25,891.05L1417.53,888.03L1418.80,884.92L1420.08,881.73L1421.36,878.44L1422.63,875.07L1423.91,871.59L1425.19,868.02L1426.47,864.33L1427.74,860.53L1429.02,856.62L1430.30,852.58L1431.57,848.42L1432.85,844.11L1434.13,839.67L1435.40,835.08L1436.68,830.33L1437.96,825.41L1439.23,820.32L1440.51,815.05L1441.79,809.58L1443.06,803.91L1444.34,798.02L1445.62,791.91L1446.89,785.54L1448.17,778.92L1449.45,772.03L1450.72,764.84L1452.00,757.34L1453.28,749.51L1454.56,741.32L1455.83,732.76L1457.11,723.78L1458.39,714.36L1459.66,704.48L1460.94,694.08L1462.22,683.13L1463.49,671.59L1464.77,659.40L1466.05,646.51L1467.32,632.85L1468.60,618.35L1469.88,602.93L1471.15,586.50L1472.43,568.95L1473.71,550.17L1474.98,530.02L1476.26,508.33L1477.54,484.92L1478.81,459.58L1480.09,432.06L1481.37,402.04L1482.65,369.17L1483.92,333.02L1485.20,293.06L1486.48,248.63L1487.75,198.94L1489.03,142.97L1490.31,79.41L1491.58,6.60L1492.86,-77.72L1494.14,-176.55L1495.41,-294.08L1496.69,-436.31L1497.97,-478.50" stroke="#D95F02"/>
<path d="M232.64,1152.00L233.92,1152.00L235.19,1152.00L236.47,1152.00L237.75,1152.00L239.02,1152.00L240.30,1152.00L241.58,1152.00L242.85,1152.00L244.13,1152.00L245.41,1152.00L246.69,1152.00L247.96,1152.00L249.24,1152.00L250.52,1152.00L251.79,1152.00L253.07,1152.00L254.35,1152.00L255.62,1152.00L256.90,1152.00L258.18,1152.00L259.45,1152.00L260.73,1152.00L262.01,1152.00L263.28,1152.00L264.56,1152.00L265.84,1152.00L267.11,1152.00L268.39,1152.00L269.67,1152.00L270.94,1152.00L272.22,1152.00L273.50,1152.00L274.78,1152.00L276.05,1152.00L277.33,1152.00L278.61,1152.00L279.88,1152.00L281.16,1152.00L282.44,1152.00L283.71,1152.00L284.99,1152.00L286.27,1152.00L287.54,1152.00L288.82,1152.00L290.10,1152.00L291.37,1152.00L292.65,1152.00L293.93,1152.00L295.20,1152.00L296.48,1152.00L297.76,1152.00L299.03,1152.00L300.31,1152.00L301.59,1152.00L302.87,1152.00L304.14,1151.99L305.42,1151.99L306.70,1151.99L307.97,1151.99L309.25,1151.98L310.53,1151.98L311.80,1151.98L313.08,1151.97L314.36,1151.96L315.63,1151.96L316.91,1151.95L318.19,1151.93L319.46,1151.92L320.74,1151.91L322.02,1151.89L323.29,1151.87L324.57,1151.84L325.85,1151.82L327.12,1151.79L328.40,1151.75L329.68,1151.71L330.96,1151.67L332.23,1151.62L333.51,1151.57L334.79,1151.51L336.06,1151.44L337.34,1151.37L338.62,1151.29L339.89,1151.21L341.17,1151.11L342.45,1151.01L343.72,1150.89L345.00,1150.77L346.28,1150.64L347.55,1150.49L348.83,1150.34L350.11,1150.17L351.38,1150.00L352.66,1149.80L353.94,1149.60L355.21,1149.38L356.49,1149.15L357.77,1148.91L359.05,1148.65L360.32,1148.37L361.60,1148.08L362.88,1147.77L364.15,1147.44L365.43,1147.10L366.71,1146.74L367.98,1146.37L369.26,1145.97L370.54,1145.55L371.81,1145.12L373.09,1144.67L374.37,1144.19L375.64,1143.70L376.92,1143.19L378.20,1142.65L379.47,1142.10L380.75,1141.52L382.03,1140.93L383.30,1140.31L384.58,1139.67L385.86,1139.01L387.14,1138.32L388.41,1137.62L389.69,1136.89L390.97,1136.14L392.24,1135.37L393.52,1134.57L394.80,1133.76L396.07,1132.92L397.35,1132.05L398.63,1131.17L399.90,1130.26L401.18,1129.33L402.46,1128.38L403.73,1127.41L405.01,1126.41L406.29,1125.39L407.56,1124.35L408.84,1123.29L410.12,1122.21L411.39,1121.10L412.67,1119.98L413.95,1118.83L415.23,1117.66L416.50,1116.47L417.78,1115.26L419.06,1114.03L420.33,1112.78L421.61,1111.51L422.89,1110.22L424.16,1108.91L425.44,1107.58L426.72,1106.23L427.99,1104.87L429.27,1103.48L430.55,1102.08L431.82,1100.66L433.10,1099.22L434.38,1097.77L435.65,1096.30L436.93,1094.81L438.21,1093.30L439.48,1091.78L440.76,1090.25L442.04,1088.70L443.32,1087.13L444.59,1085.55L445.87,1083.96L447.15,1082.35L448.42,1080.73L449.70,1079.10L450.98,1077.45L452.25,1075.79L453.53,1074.12L454.81,1072.44L456.08,1070.74L457.36,1069.04L458.64,1067.32L459.91,1065.60L461.19,1063.86L462.47,1062.11L463.74,1060.36L465.02,1058.60L466.30,1056.82L467.57,1055.04L468.85,1053.25L470.13,1051.46L471.41,1049.65L472.68,1047.84L473.96,1046.03L475.24,1044.20L476.51,1042.37L477.79,1040.54L479.07,1038.70L480.34,1036.86L481.62,1035.01L482.90,1033.15L484.17,1031.29L485.45,1029.43L486.73,1027.57L488.00,1025.70L489.28,1023.83L490.56,1021.96L491.83,1020.08L493.11,1018.20L494.39,1016.32L495.67,1014.44L496.94,1012.56L498.22,1010.68L499.50,1008.80L500.77,1006.91L502.05,1005.03L503.33,1003.14L504.60,1001.26L505.88,999.38L507.16,997.50L508.43,995.62L509.71,993.74L510.99,991.86L512.26,989.99L513.54,988.11L514.82,986.24L516.09,984.37L517.37,982.51L518.65,980.64L519.92,978.78L521.20,976.93L522.48,975.07L523.75,973.22L525.03,971.38L526.31,969.54L527.59,967.70L528.86,965.87L530.14,964.04L531.42,962.21L532.69,960.39L533.97,958.58L535.25,956.77L536.52,954.97L537.80,953.17L539.08,951.38L540.35,949.59L541.63,947.81L542.91,946.04L544.18,944.27L545.46,942.51L546.74,940.75L548.01,939.00L549.29,937.26L550.57,935.53L551.84,933.80L553.12,932.08L554.40,930.36L555.68,928.66L556.95,926.96L558.23,925.26L559.51,923.58L560.78,921.90L562.06,920.23L563.34,918.57L564.61,916.92L565.89,915.27L567.17,913.63L568.44,912.01L569.72,910.38L571.00,908.77L572.27,907.17L573.55,905.57L574.83,903.98L576.10,902.40L577.38,900.83L578.66,899.27L579.93,897.72L581.21,896.17L582.49,894.64L583.77,893.11L585.04,891.59L586.32,890.08L587.60,888.58L588.87,887.09L590.15,885.61L591.43,884.14L592.70,882.67L593.98,881.22L595.26,879.77L596.53,878.33L597.81,876.91L599.09,875.49L600.36,874.08L601.64,872.68L602.92,871.29L604.19,869.91L605.47,868.54L606.75,867.18L608.02,865.82L609.30,864.48L610.58,863.14L611.86,861.82L613.13,860.50L614.41,859.20L615.69,857.90L616.96,856.61L618.24,855.34L619.52,854.07L620.79,852.81L622.07,851.56L623.35,850.32L624.62,849.09L625.90,847.87L627.18,846.66L628.45,845.45L629.73,844.26L631.01,843.08L632.28,841.90L633.56,840.74L634.84,839.58L636.11,838.43L637.39,837.29L638.67,836.17L639.95,835.05L641.22,833.94L642.50,832.84L643.78,831.75L645.05,830.66L646.33,829.59L647.61,828.53L648.88,827.47L650.16,826.43L651.44,825.39L652.71,824.36L653.99,823.35L655.27,822.34L656.54,821.34L657.82,820.34L659.10,819.36L660.37,818.39L661.65,817.42L662.93,816.47L664.21,815.52L665.48,814.58L666.76,813.65L668.04,812.73L669.31,811.82L670.59,810.91L671.87,810.02L673.14,809.13L674.42,808.26L675.70,807.39L676.97,806.53L678.25,805.67L679.53,804.83L680.80,803.99L682.08,803.17L683.36,802.35L684.63,801.54L685.91,800.73L687.19,799.94L688.46,799.15L689.74,798.38L691.02,797.61L692.29,796.85L693.57,796.09L694.85,795.35L696.13,794.61L697.40,793.88L698.68,793.16L699.96,792.44L701.23,791.74L702.51,791.04L703.79,790.35L705.06,789.66L706.34,788.99L707.62,788.32L708.89,787.66L710.17,787.01L711.45,786.36L712.72,785.73L714.00,785.10L715.28,784.47L716.55,783.86L717.83,783.25L719.11,782.65L720.38,782.05L721.66,781.47L722.94,780.89L724.22,780.32L725.49,779.75L726.77,779.19L728.05,778.64L729.32,778.10L730.60,777.56L731.88,777.03L733.15,776.51L734.43,775.99L735.71,775.48L736.98,774.97L738.26,774.48L739.54,773.99L740.81,773.50L742.09,773.03L743.37,772.56L744.64,772.09L745.92,771.64L747.20,771.18L748.47,770.74L749.75,770.30L751.03,769.87L752.31,769.44L753.58,769.02L754.86,768.61L756.14,768.20L757.41,767.80L758.69,767.41L759.97,767.02L761.24,766.63L762.52,766.26L763.80,765.88L765.07,765.52L766.35,765.16L767.63,764.80L768.90,764.46L770.18,764.11L771.46,763.78L772.73,763.44L774.01,763.12L775.29,762.80L776.56,762.48L777.84,762.17L779.12,761.87L780.40,761.57L781.67,761.28L782.95,760.99L784.23,760.71L785.50,760.43L786.78,760.16L788.06,759.89L789.33,759.63L790.61,759.38L791.89,759.13L793.16,758.88L794.44,758.64L795.72,758.40L796.99,758.17L798.27,757.94L799.55,757.72L800.82,757.51L802.10,757.29L803.38,757.09L804.65,756.89L805.93,756.69L807.21,756.49L808.49,756.31L809.76,756.12L811.04,755.94L812.32,755.77L813.59,755.60L814.87,755.43L816.15,755.27L817.42,755.12L818.70,754.96L819.98,754.82L821.25,754.67L822.53,754.53L823.81,754.40L825.08,754.27L826.36,754.14L827.64,754.02L828.91,753.90L830.19,753.79L831.47,753.68L832.74,753.57L834.02,753.47L835.30,753.37L836.58,753.27L837.85,753.18L839.13,753.10L840.41,753.01L841.68,752.94L842.96,752.86L844.24,752.79L845.51,752.72L846.79,752.66L848.07,752.60L849.34,752.54L850.62,752.49L851.90,752.44L853.17,752.39L854.45,752.35L855.73,752.31L857.00,752.28L858.28,752.25L859.56,752.22L860.83,752.19L862.11,752.17L863.39,752.16L864.67,752.14L865.94,752.13L867.22,752.12L868.50,752.12L869.77,752.12L871.05,752.12L872.33,752.12L873.60,752.13L874.88,752.14L876.16,752.15L877.43,752.17L878.71,752.19L879.99,752.22L881.26,752.24L882.54,752.27L883.82,752.30L885.09,752.34L886.37,752.38L887.65,752.42L888.92,752.46L890.20,752.51L891.48,752.56L892.76,752.61L894.03,752.66L895.31,752.72L896.59,752.78L897.86,752.85L899.14,752.91L900.42,752.98L901.69,753.05L902.97,753.12L904.25,753.20L905.52,753.28L906.80,753.36L908.08,753.44L909.35,753.53L910.63,753.62L911.91,753.71L913.18,753.80L914.46,753.90L915.74,754.00L917.01,754.10L918.29,754.20L919.57,754.31L920.85,754.42L922.12,754.53L923.40,754.64L924.68,754.75L925.95,754.87L927.23,754.99L928.51,755.11L929.78,755.24L931.06,755.36L932.34,755.49L933.61,755.62L934.89,755.75L936.17,755.89L937.44,756.02L938.72,756.16L940.00,756.30L941.27,756.44L942.55,756.59L943.83,756.73L945.11,756.88L946.38,757.03L947.66,757.18L948.94,757.34L950.21,757.49L951.49,757.65L952.77,757.81L954.04,757.97L955.32,758.14L956.60,758.30L957.87,758.47L959.15,758.64L960.43,758.81L961.70,758.98L962.98,759.15L964.26,759.33L965.53,759.51L966.81,759.68L968.09,759.86L969.36,760.05L970.64,760.23L971.92,760.42L973.19,760.60L974.47,760.79L975.75,760.98L977.03,761.17L978.30,761.37L979.58,761.56L980.86,761.76L982.13,761.96L983.41,762.16L984.69,762.36L985.96,762.56L987.24,762.76L988.52,762.97L989.79,763.17L991.07,763.38L992.35,763.59L993.62,763.80L994.90,764.01L996.18,764.23L997.45,764.44L998.73,764.66L1000.01,764.87L1001.28,765.09L1002.56,765.31L1003.84,765.53L1005.12,765.76L1006.39,765.98L1007.67,766.20L1008.95,766.43L1010.22,766.66L1011.50,766.89L1012.78,767.12L1014.05,767.35L1015.33,767.58L1016.61,767.81L1017.88,768.05L1019.16,768.28L1020.44,768.52L1021.71,768.76L1022.99,768.99L1024.27,769.23L1025.54,769.47L1026.82,769.72L1028.10,769.96L1029.38,770.20L1030.65,770.45L1031.93,770.69L1033.21,770.94L1034.48,771.19L1035.76,771.44L1037.04,771.69L1038.31,771.94L1039.59,772.19L1040.87,772.44L1042.14,772.70L1043.42,772.95L1044.70,773.21L1045.97,773.46L1047.25,773.72L1048.53,773.98L1049.80,774.24L1051.08,774.49L1052.36,774.76L1053.63,775.02L1054.91,775.28L1056.19,775.54L1057.46,775.81L1058.74,776.07L1060.02,776.34L1061.30,776.60L1062.57,776.87L1063.85,777.14L1065.13,777.41L1066.40,777.67L1067.68,777.94L1068.96,778.21L1070.23,778.49L1071.51,778.76L1072.79,779.03L1074.06,779.30L1075.34,779.58L1076.62,779.85L1077.89,780.13L1079.17,780.40L1080.45,780.68L1081.72,780.96L1083.00,781.24L1084.28,781.52L1085.55,781.80L1086.83,782.07L1088.11,782.36L1089.39,782.64L1090.66,782.92L1091.94,783.20L1093.22,783.48L1094.49,783.77L1095.77,784.05L1097.05,784.33L1098.32,784.62L1099.60,784.91L1100.88,785.19L1102.15,785.48L1103.43,785.77L1104.71,786.05L1105.98,786.34L1107.26,786.63L1108.54,786.92L1109.81,787.21L1111.09,787.50L1112.37,787.79L1113.64,788.08L1114.92,788.37L1116.20,788.66L1117.48,788.95L1118.75,789.25L1120.03,789.54L1121.31,789.83L1122.58,790.13L1123.86,790.42L1125.14,790.72L1126.41,791.01L1127.69,791.31L1128.97,791.60L1130.24,791.90L1131.52,792.20L1132.80,792.49L1134.07,792.79L1135.35,793.09L1136.63,793.39L1137.90,793.69L1139.18,793.98L1140.46,794.28L1141.73,794.58L1143.01,794.88L1144.29,795.18L1145.57,795.48L1146.84,795.78L1148.12,796.08L1149.40,796.38L1150.67,796.69L1151.95,796.99L1153.23,797.29L1154.50,797.59L1155.78,797.89L1157.06,798.20L1158.33,798.50L1159.61,798.80L1160.89,799.11L1162.16,799.41L1163.44,799.71L1164.72,800.02L1165.99,800.32L1167.27,800.63L1168.55,800.93L1169.82,801.24L1171.10,801.54L1172.38,801.85L1173.66,802.15L1174.93,802.46L1176.21,802.77L1177.49,803.07L1178.76,803.38L1180.04,803.69L1181.32,803.99L1182.59,804.30L1183.87,804.61L1185.15,804.91L1186.42,805.22L1187.70,805.53L1188.98,805.84L1190.25,806.14L1191.53,806.45L1192.81,806.76L1194.08,807.07L1195.36,807.38L1196.64,807.68L1197.91,807.99L1199.19,808.30L1200.47,808.61L1201.75,808.92L1203.02,809.23L1204.30,809.54L1205.58,809.85L1206.85,810.16L1208.13,810.46L1209.41,810.77L1210.68,811.08L1211.96,811.39L1213.24,811.70L1214.51,812.01L1215.79,812.32L1217.07,812.63L1218.34,812.94L1219.62,813.25L1220.90,813.56L1222.17,813.87L1223.45,814.18L1224.73,814.49L1226.01,814.80L1227.28,815.11L1228.56,815.42L1229.84,815.73L1231.11,816.04L1232.39,816.35L1233.67,816.66L1234.94,816.97L1236.22,817.28L1237.50,817.59L1238.77,817.90L1240.05,818.21L1241.33,818.52L1242.60,818.83L1243.88,819.14L1245.16,819.45L1246.43,819.76L1247.71,820.07L1248.99,820.38L1250.26,820.69L1251.54,821.00L1252.82,821.31L1254.09,821.62L1255.37,821.93L1256.65,822.24L1257.93,822.55L1259.20,822.86L1260.48,823.17L1261.76,823.48L1263.03,823.79L1264.31,824.10L1265.59,824.41L1266.86,824.72L1268.14,825.03L1269.42,825.34L1270.69,825.65L1271.97,825.96L1273.25,826.27L1274.52,826.58L1275.80,826.89L1277.08,827.20L1278.35,827.50L1279.63,827.81L1280.91,828.12L1282.18,828.43L1283.46,828.74L1284.74,829.05L1286.02,829.36L1287.29,829.66L1288.57,829.97L1289.85,830.28L1291.12,830.59L1292.40,830.90L1293.68,831.20L1294.95,831.51L1296.23,831.82L1297.51,832.13L1298.78,832.43L1300.06,832.74L1301.34,833.05L1302.61,833.36L1303.89,833.66L1305.17,833.97L1306.44,834.28L1307.72,834.58L1309.00,834.89L1310.27,835.19L1311.55,835.50L1312.83,835.81L1314.11,836.11L1315.38,836.42L1316.66,836.72L1317.94,837.03L1319.21,837.33L1320.49,837.64L1321.77,837.94L1323.04,838.25L1324.32,838.55L1325.60,838.86L1326.87,839.16L1328.15,839.47L1329.43,839.77L1330.70,840.07L1331.98,840.38L1333.26,840.68L1334.53,840.99L1335.81,841.29L1337.09,841.59L1338.36,841.89L1339.64,842.20L1340.92,842.50L1342.20,842.80L1343.47,843.10L1344.75,843.41L1346.03,843.71L1347.30,844.01L1348.58,844.31L1349.86,844.61L1351.13,844.91L1352.41,845.21L1353.69,845.52L1354.96,845.82L1356.24,846.12L1357.52,846.42L1358.79,846.72L1360.07,847.02L1361.35,847.32L1362.62,847.62L1363.90,847.91L1365.18,848.21L1366.45,848.51L1367.73,848.81L1369.01,849.11L1370.29,849.41L1371.56,849.71L1372.84,850.00L1374.12,850.30L1375.39,850.60L1376.67,850.90L1377.95,851.19L1379.22,851.49L1380.50,851.79L1381.78,852.08L1383.05,852.38L1384.33,852.68L1385.61,852.97L1386.88,853.27L1388.16,853.56L1389.44,853.86L1390.71,854.15L1391.99,854.45L1393.27,854.74L1394.55,855.04L1395.82,855.33L1397.10,855.62L1398.38,855.92L1399.65,856.21L1400.93,856.50L1402.21,856.80L1403.48,857.09L1404.76,857.38L1406.04,857.67L1407.31,857.97L1408.59,858.26L1409.87,858.55L1411.14,858.84L1412.42,859.13L1413.70,859.42L1414.97,859.71L1416.25,860.00L1417.53,860.29L1418.80,860.58L1420.08,860.87L1421.36,861.16L1422.63,861.45L1423.91,861.74L1425.19,862.03L1426.47,862.32L1427.74,862.61L1429.02,862.89L1430.30,863.18L1431.57,863.47L1432.85,863.76L1434.13,864.04L1435.40,864.33L1436.68,864.62L1437.96,864.90L1439.23,865.19L1440.51,865.47L1441.79,865.76L1443.06,866.04L1444.34,866.33L1445.62,866.61L1446.89,866.90L1448.17,867.18L1449.45,867.47L1450.72,867.75L1452.00,868.03L1453.28,868.32L1454.56,868.60L1455.83,868.88L1457.11,869.17L1458.39,869.45L1459.66,869.73L1460.94,870.01L1462.22,870.29L1463.49,870.57L1464.77,870.86L1466.05,871.14L1467.32,871.42L1468.60,871.70L1469.88,871.98L1471.15,872.26L1472.43,872.54L1473.71,872.81L1474.98,873.09L1476.26,873.37L1477.54,873.65L1478.81,873.93L1480.09,874.21L1481.37,874.48L1482.65,874.76L1483.92,875.04L1485.20,875.31L1486.48,875.59L1487.75,875.87L1489.03,876.14L1490.31,876.42L1491.58,876.69L1492.86,876.97L1494.14,877.24L1495.41,877.52L1496.69,877.79L1497.97,878.07L1499.24,878.34L1500.52,878.61L1501.80,878.89L1503.07,879.16L1504.35,879.43L1505.63,879.71L1506.90,879.98" stroke="#7570B3"/>
<path d="M237.75,-478.30L239.02,-232.83L240.30,-54.53L241.58,81.12L242.85,187.96L244.13,274.37L245.41,345.79L246.69,405.83L247.96,457.06L249.24,501.31L250.52,539.92L251.79,573.93L253.07,604.13L254.35,631.12L255.62,655.41L256.90,677.38L258.18,697.35L259.45,715.59L260.73,732.32L262.01,747.72L263.28,761.94L264.56,775.12L265.84,787.37L267.11,798.79L268.39,809.45L269.67,819.43L270.94,828.81L272.22,837.62L273.50,845.92L274.78,853.76L276.05,861.17L277.33,868.18L278.61,874.84L279.88,881.16L281.16,887.17L282.44,892.89L283.71,898.35L284.99,903.56L286.27,908.53L287.54,913.30L288.82,917.85L290.10,922.22L291.37,926.42L292.65,930.44L293.93,934.31L295.20,938.03L296.48,941.61L297.76,945.06L299.03,948.38L300.31,951.59L301.59,954.68L302.87,957.67L304.14,960.56L305.42,963.35L306.70,966.06L307.97,968.67L309.25,971.21L310.53,973.66L311.80,976.04L313.08,978.35L314.36,980.59L315.63,982.77L316.91,984.88L318.19,986.94L319.46,988.93L320.74,990.88L322.02,992.77L323.29,994.61L324.57,996.40L325.85,998.14L327.12,999.84L328.40,1001.50L329.68,1003.11L330.96,1004.69L332.23,1006.23L333.51,1007.73L334.79,1009.19L336.06,1010.62L337.34,1012.02L338.62,1013.38L339.89,1014.71L341.17,1016.02L342.45,1017.29L343.72,1018.54L345.00,1019.76L346.28,1020.95L347.55,1022.12L348.83,1023.27L350.11,1024.39L351.38,1025.48L352.66,1026.56L353.94,1027.61L355.21,1028.64L356.49,1029.65L357.77,1030.65L359.05,1031.62L360.32,1032.57L361.60,1033.51L362.88,1034.43L364.15,1035.33L365.43,1036.21L366.71,1037.08L367.98,1037.93L369.26,1038.77L370.54,1039.59L371.81,1040.40L373.09,1041.19L374.37,1041.97L375.64,1042.74L376.92,1043.49L378.20,1044.23L379.47,1044.96L380.75,1045.67L382.03,1046.38L383.30,1047.07L384.58,1047.75L385.86,1048.42L387.14,1049.08L388.41,1049.73L389.69,1050.36L390.97,1050.99L392.24,1051.61L393.52,1052.22L394.80,1052.82L396.07,1053.41L397.35,1053.99L398.63,1054.56L399.90,1055.13L401.18,1055.68L402.46,1056.23L403.73,1056.77L405.01,1057.30L406.29,1057.83L407.56,1058.34L408.84,1058.85L410.12,1059.36L411.39,1059.85L412.67,1060.34L413.95,1060.82L415.23,1061.30L416.50,1061.76L417.78,1062.23L419.06,1062.68L420.33,1063.13L421.61,1063.57L422.89,1064.01L424.16,1064.44L425.44,1064.87L426.72,1065.29L427.99,1065.71L429.27,1066.12L430.55,1066.52L431.82,1066.92L433.10,1067.31L434.38,1067.70L435.65,1068.09L436.93,1068.47L438.21,1068.84L439.48,1069.21L440.76,1069.58L442.04,1069.94L443.32,1070.30L444.59,1070.65L445.87,1071.00L447.15,1071.34L448.42,1071.68L449.70,1072.02L450.98,1072.35L452.25,1072.68L453.53,1073.00L454.81,1073.32L456.08,1073.64L457.36,1073.96L458.64,1074.26L459.91,1074.57L461.19,1074.87L462.47,1075.17L463.74,1075.47L465.02,1075.76L466.30,1076.05L467.57,1076.34L468.85,1076.62L470.13,1076.90L471.41,1077.18L472.68,1077.45L473.96,1077.72L475.24,1077.99L476.51,1078.25L477.79,1078.52L479.07,1078.78L480.34,1079.03L481.62,1079.29L482.90,1079.54L484.17,1079.79L485.45,1080.03L486.73,1080.27L488.00,1080.52L489.28,1080.75L490.56,1080.99L491.83,1081.22L493.11,1081.45L494.39,1081.68L495.67,1081.91L496.94,1082.13L498.22,1082.35L499.50,1082.57L500.77,1082.79L502.05,1083.01L503.33,1083.22L504.60,1083.43L505.88,1083.64L507.16,1083.85L508.43,1084.05L509.71,1084.25L510.99,1084.45L512.26,1084.65L513.54,1084.85L514.82,1085.05L516.09,1085.24L517.37,1085.43L518.65,1085.62L519.92,1085.81L521.20,1085.99L522.48,1086.18L523.75,1086.36L525.03,1086.54L526.31,1086.72L527.59,1086.89L528.86,1087.07L530.14,1087.24L531.42,1087.42L532.69,1087.59L533.97,1087.76L535.25,1087.92L536.52,1088.09L537.80,1088.25L539.08,1088.42L540.35,1088.58L541.63,1088.74L542.91,1088.90L544.18,1089.05L545.46,1089.21L546.74,1089.36L548.01,1089.51L549.29,1089.67L550.57,1089.82L551.84,1089.96L553.12,1090.11L554.40,1090.26L555.68,1090.40L556.95,1090.55L558.23,1090.69L559.51,1090.83L560.78,1090.97L562.06,1091.11L563.34,1091.24L564.61,1091.38L565.89,1091.51L567.17,1091.65L568.44,1091.78L569.72,1091.91L571.00,1092.04L572.27,1092.17L573.55,1092.30L574.83,1092.42L576.10,1092.55L577.38,1092.67L578.66,1092.80L579.93,1092.92L581.21,1093.04L582.49,1093.16L583.77,1093.28L585.04,1093.40L586.32,1093.51L587.60,1093.63L588.87,1093.74L590.15,1093.86L591.43,1093.97L592.70,1094.08L593.98,1094.19L595.26,1094.30L596.53,1094.41L597.81,1094.52L599.09,1094.63L600.36,1094.73L601.64,1094.84L602.92,1094.94L604.19,1095.05L605.47,1095.15L606.75,1095.25L608.02,1095.35L609.30,1095.45L610.58,1095.55L611.86,1095.65L613.13,1095.75L614.41,1095.85L615.69,1095.94L616.96,1096.04L618.24,1096.13L619.52,1096.22L620.79,1096.32L622.07,1096.41L623.35,1096.50L624.62,1096.59L625.90,1096.68L627.18,1096.77L628.45,1096.86L629.73,1096.94L631.01,1097.03L632.28,1097.12L633.56,1097.20L634.84,1097.28L636.11,1097.37L637.39,1097.45L638.67,1097.53L639.95,1097.61L641.22,1097.69L642.50,1097.77L643.78,1097.85L645.05,1097.93L646.33,1098.01L647.61,1098.09L648.88,1098.16L650.16,1098.24L651.44,1098.31L652.71,1098.39L653.99,1098.46L655.27,1098.54L656.54,1098.61L657.82,1098.68L659.10,1098.75L660.37,1098.82L661.65,1098.89L662.93,1098.96L664.21,1099.03L665.48,1099.10L666.76,1099.17L668.04,1099.23L669.31,1099.30L670.59,1099.37L671.87,1099.43L673.14,1099.50L674.42,1099.56L675.70,1099.62L676.97,1099.69L678.25,1099.75L679.53,1099.81L680.80,1099.87L682.08,1099.93L683.36,1099.99L684.63,1100.05L685.91,1100.11L687.19,1100.17L688.46,1100.23L689.74,1100.28L691.02,1100.34L692.29,1100.40L693.57,1100.45L694.85,1100.51L696.13,1100.56L697.40,1100.62L698.68,1100.67L699.96,1100.72L701.23,1100.78L702.51,1100.83L703.79,1100.88L705.06,1100.93L706.34,1100.98L707.62,1101.03L708.89,1101.08L710.17,1101.13L711.45,1101.18L712.72,1101.23L714.00,1101.27L715.28,1101.32L716.55,1101.37L717.83,1101.41L719.11,1101.46L720.38,1101.51L721.66,1101.55L722.94,1101.59L724.22,1101.64L725.49,1101.68L726.77,1101.72L728.05,1101.77L729.32,1101.81L730.60,1101.85L731.88,1101.89L733.15,1101.93L734.43,1101.97L735.71,1102.01L736.98,1102.05L738.26,1102.09L739.54,1102.13L740.81,1102.17L742.09,1102.20L743.37,1102.24L744.64,1102.28L745.92,1102.31L747.20,1102.35L748.47,1102.39L749.75,1102.42L751.03,1102.46L752.31,1102.49L753.58,1102.52L754.86,1102.56L756.14,1102.59L757.41,1102.62L758.69,1102.65L759.97,1102.69L761.24,1102.72L762.52,1102.75L763.80,1102.78L765.07,1102.81L766.35,1102.84L767.63,1102.87L768.90,1102.90L770.18,1102.92L771.46,1102.95L772.73,1102.98L774.01,1103.01L775.29,1103.03L776.56,1103.06L777.84,1103.09L779.12,1103.11L780.40,1103.14L781.67,1103.16L782.95,1103.19L784.23,1103.21L785.50,1103.24L786.78,1103.26L788.06,1103.28L789.33,1103.30L790.61,1103.33L791.89,1103.35L793.16,1103.37L794.44,1103.39L795.72,1103.41L796.99,1103.43L798.27,1103.45L799.55,1103.47L800.82,1103.49L802.10,1103.51L803.38,1103.53L804.65,1103.55L805.93,1103.56L807.21,1103.58L808.49,1103.60L809.76,1103.62L811.04,1103.63L812.32,1103.65L813.59,1103.66L814.87,1103.68L816.15,1103.69L817.42,1103.71L818.70,1103.72L819.98,1103.74L821.25,1103.75L822.53,1103.76L823.81,1103.78L825.08,1103.79L826.36,1103.80L827.64,1103.81L828.91,1103.82L830.19,1103.83L831.47,1103.84L832.74,1103.85L834.02,1103.86L835.30,1103.87L836.58,1103.88L837.85,1103.89L839.13,1103.90L840.41,1103.91L841.68,1103.92L842.96,1103.92L844.24,1103.93L845.51,1103.94L846.79,1103.94L848.07,1103.95L849.34,1103.96L850.62,1103.96L851.90,1103.97L853.17,1103.97L854.45,1103.98L855.73,1103.98L857.00,1103.98L858.28,1103.99L859.56,1103.99L860.83,1103.99L862.11,1103.99L863.39,1104.00L864.67,1104.00L865.94,1104.00L867.22,1104.00L868.50,1104.00L869.77,1104.00L871.05,1104.00L872.33,1104.00L873.60,1104.00L874.88,1104.00L876.16,1104.00L877.43,1103.99L878.71,1103.99L879.99,1103.99L881.26,1103.99L882.54,1103.98L883.82,1103.98L885.09,1103.98L886.37,1103.97L887.65,1103.97L888.92,1103.96L890.20,1103.96L891.48,1103.95L892.76,1103.94L894.03,1103.94L895.31,1103.93L896.59,1103.92L897.86,1103.92L899.14,1103.91L900.42,1103.90L901.69,1103.89L902.97,1103.88L904.25,1103.87L905.52,1103.86L906.80,1103.85L908.08,1103.84L909.35,1103.83L910.63,1103.82L911.91,1103.81L913.18,1103.80L914.46,1103.79L915.74,1103.78L917.01,1103.76L918.29,1103.75L919.57,1103.74L920.85,1103.72L922.12,1103.71L923.40,1103.69L924.68,1103.68L925.95,1103.66L927.23,1103.65L928.51,1103.63L929.78,1103.62L931.06,1103.60L932.34,1103.58L933.61,1103.56L934.89,1103.55L936.17,1103.53L937.44,1103.51L938.72,1103.49L940.00,1103.47L941.27,1103.45L942.55,1103.43L943.83,1103.41L945.11,1103.39L946.38,1103.37L947.66,1103.35L948.94,1103.33L950.21,1103.30L951.49,1103.28L952.77,1103.26L954.04,1103.24L955.32,1103.21L956.60,1103.19L957.87,1103.16L959.15,1103.14L960.43,1103.11L961.70,1103.09L962.98,1103.06L964.26,1103.03L965.53,1103.01L966.81,1102.98L968.09,1102.95L969.36,1102.92L970.64,1102.90L971.92,1102.87L973.19,1102.84L974.47,1102.81L975.75,1102.78L977.03,1102.75L978.30,1102.72L979.58,1102.69L980.86,1102.65L982.13,1102.62L983.41,1102.59L984.69,1102.56L985.96,1102.52L987.24,1102.49L988.52,1102.46L989.79,1102.42L991.07,1102.39L992.35,1102.35L993.62,1102.31L994.90,1102.28L996.18,1102.24L997.45,1102.20L998.73,1102.17L1000.01,1102.13L1001.28,1102.09L1002.56,1102.05L1003.84,1102.01L1005.12,1101.97L1006.39,1101.93L1007.67,1101.89L1008.95,1101.85L1010.22,1101.81L1011.50,1101.77L1012.78,1101.72L1014.05,1101.68L1015.33,1101.64L1016.61,1101.59L1017.88,1101.55L1019.16,1101.51L1020.44,1101.46L1021.71,1101.41L1022.99,1101.37L1024.27,1101.32L1025.54,1101.27L1026.82,1101.23L1028.10,1101.18L1029.38,1101.13L1030.65,1101.08L1031.93,1101.03L1033.21,1100.98L1034.48,1100.93L1035.76,1100.88L1037.04,1100.83L1038.31,1100.78L1039.59,1100.72L1040.87,1100.67L1042.14,1100.62L1043.42,1100.56L1044.70,1100.51L1045.97,1100.45L1047.25,1100.40L1048.53,1100.34L1049.80,1100.28L1051.08,1100.23L1052.36,1100.17L1053.63,1100.11L1054.91,1100.05L1056.19,1099.99L1057.46,1099.93L1058.74,1099.87L1060.02,1099.81L1061.30,1099.75L1062.57,1099.69L1063.85,1099.62L1065.13,1099.56L1066.40,1099.50L1067.68,1099.43L1068.96,1099.37L1070.23,1099.30L1071.51,1099.23L1072.79,1099.17L1074.06,1099.10L1075.34,1099.03L1076.62,1098.96L1077.89,1098.89L1079.17,1098.82L1080.45,1098.75L1081.72,1098.68L1083.00,1098.61L1084.28,1098.54L1085.55,1098.46L1086.83,1098.39L1088.11,1098.31L1089.39,1098.24L1090.66,1098.16L1091.94,1098.09L1093.22,1098.01L1094.49,1097.93L1095.77,1097.85L1097.05,1097.77L1098.32,1097.69L1099.60,1097.61L1100.88,1097.53L1102.15,1097.45L1103.43,1097.37L1104.71,1097.28L1105.98,1097.20L1107.26,1097.12L1108.54,1097.03L1109.81,1096.94L1111.09,1096.86L1112.37,1096.77L1113.64,1096.68L1114.92,1096.59L1116.20,1096.50L1117.48,1096.41L1118.75,1096.32L1120.03,1096.22L1121.31,1096.13L1122.58,1096.04L1123.86,1095.94L1125.14,1095.85L1126.41,1095.75L1127.69,1095.65L1128.97,1095.55L1130.24,1095.45L1131.52,1095.35L1132.80,1095.25L1134.07,1095.15L1135.35,1095.05L1136.63,1094.94L1137.90,1094.84L1139.18,1094.73L1140.46,1094.63L1141.73,1094.52L1143.01,1094.41L1144.29,1094.30L1145.57,1094.19L1146.84,1094.08L1148.12,1093.97L1149.40,1093.86L1150.67,1093.74L1151.95,1093.63L1153.23,1093.51L1154.50,1093.40L1155.78,1093.28L1157.06,1093.16L1158.33,1093.04L1159.61,1092.92L1160.89,1092.80L1162.16,1092.67L1163.44,1092.55L1164.72,1092.42L1165.99,1092.30L1167.27,1092.17L1168.55,1092.04L1169.82,1091.91L1171.10,1091.78L1172.38,1091.65L1173.66,1091.51L1174.93,1091.38L1176.21,1091.24L1177.49,1091.11L1178.76,1090.97L1180.04,1090.83L1181.32,1090.69L1182.59,1090.55L1183.87,1090.40L1185.15,1090.26L1186.42,1090.11L1187.70,1089.96L1188.98,1089.82L1190.25,1089.67L1191.53,1089.51L1192.81,1089.36L1194.08,1089.21L1195.36,1089.05L1196.64,1088.90L1197.91,1088.74L1199.19,1088.58L1200.47,1088.42L1201.75,1088.25L1203.02,1088.09L1204.30,1087.92L1205.58,1087.76L1206.85,1087.59L1208.13,1087.42L1209.41,1087.24L1210.68,1087.07L1211.96,1086.89L1213.24,1086.72L1214.51,1086.54L1215.79,1086.36L1217.07,1086.18L1218.34,1085.99L1219.62,1085.81L1220.90,1085.62L1222.17,1085.43L1223.45,1085.24L1224.73,1085.05L1226.01,1084.85L1227.28,1084.65L1228.56,1084.45L1229.84,1084.25L1231.11,1084.05L1232.39,1083.85L1233.67,1083.64L1234.94,1083.43L1236.22,1083.22L1237.50,1083.01L1238.77,1082.79L1240.05,1082.57L1241.33,1082.35L1242.60,1082.13L1243.88,1081.91L1245.16,1081.68L1246.43,1081.45L1247.71,1081.22L1248.99,1080.99L1250.26,1080.75L1251.54,1080.52L1252.82,1080.27L1254.09,1080.03L1255.37,1079.79L1256.65,1079.54L1257.93,1079.29L1259.20,1079.03L1260.48,1078.78L1261.76,1078.52L1263.03,1078.25L1264.31,1077.99L1265.59,1077.72L1266.86,1077.45L1268.14,1077.18L1269.42,1076.90L1270.69,1076.62L1271.97,1076.34L1273.25,1076.05L1274.52,1075.76L1275.80,1075.47L1277.08,1075.17L1278.35,1074.87L1279.63,1074.57L1280.91,1074.26L1282.18,1073.96L1283.46,1073.64L1284.74,1073.32L1286.02,1073.00L1287.29,1072.68L1288.57,1072.35L1289.85,1072.02L1291.12,1071.68L1292.40,1071.34L1293.68,1071.00L1294.95,1070.65L1296.23,1070.30L1297.51,1069.94L1298.78,1069.58L1300.06,1069.21L1301.34,1068.84L1302.61,1068.47L1303.89,1068.09L1305.17,1067.70L1306.44,1067.31L1307.72,1066.92L1309.00,1066.52L1310.27,1066.12L1311.55,1065.71L1312.83,1065.29L1314.11,1064.87L1315.38,1064.44L1316.66,1064.01L1317.94,1063.57L1319.21,1063.13L1320.49,1062.68L1321.77,1062.23L1323.04,1061.76L1324.32,1061.30L1325.60,1060.82L1326.87,1060.34L1328.15,1059.85L1329.43,1059.36L1330.70,1058.85L1331.98,1058.34L1333.26,1057.83L1334.53,1057.30L1335.81,1056.77L1337.09,1056.23L1338.36,1055.68L1339.64,1055.13L1340.92,1054.56L1342.20,1053.99L1343.47,1053.41L1344.75,1052.82L1346.03,1052.22L1347.30,1051.61L1348.58,1050.99L1349.86,1050.36L1351.13,1049.73L1352.41,1049.08L1353.69,1048.42L1354.96,1047.75L1356.24,1047.07L1357.52,1046.38L1358.79,1045.67L1360.07,1044.96L1361.35,1044.23L1362.62,1043.49L1363.90,1042.74L1365.18,1041.97L1366.45,1041.19L1367.73,1040.40L1369.01,1039.59L1370.29,1038.77L1371.56,1037.93L1372.84,1037.08L1374.12,1036.21L1375.39,1035.33L1376.67,1034.43L1377.95,1033.51L1379.22,1032.57L1380.50,1031.62L1381.78,1030.65L1383.05,1029.65L1384.33,1028.64L1385.61,1027.61L1386.88,1026.56L1388.16,1025.48L1389.44,1024.39L1390.71,1023.27L1391.99,1022.12L1393.27,1020.95L1394.55,1019.76L1395.82,1018.54L1397.10,1017.29L1398.38,1016.02L1399.65,1014.71L1400.93,1013.38L1402.21,1012.02L1403.48,1010.62L1404.76,1009.19L1406.04,1007.73L1407.31,1006.23L1408.59,1004.69L1409.87,1003.11L1411.14,1001.50L1412.42,999.84L1413.70,998.14L1414.97,996.40L1416.25,994.61L1417.53,992.77L1418.80,990.88L1420.08,988.93L1421.36,986.94L1422.63,984.88L1423.91,982.77L1425.19,980.59L1426.47,978.35L1427.74,976.04L1429.02,973.66L1430.30,971.21L1431.57,968.67L1432.85,966.06L1434.13,963.35L1435.40,960.56L1436.68,957.67L1437.96,954.68L1439.23,951.59L1440.51,948.38L1441.79,945.06L1443.06,941.61L1444.34,938.03L1445.62,934.31L1446.89,930.44L1448.17,926.42L1449.45,922.22L1450.72,917.85L1452.00,913.30L1453.28,908.53L1454.56,903.56L1455.83,898.35L1457.11,892.89L1458.39,887.17L1459.66,881.16L1460.94,874.84L1462.22,868.18L1463.49,861.17L1464.77,853.76L1466.05,845.92L1467.32,837.62L1468.60,828.81L1469.88,819.43L1471.15,809.45L1472.43,798.79L1473.71,787.37L1474.98,775.12L1476.26,761.94L1477.54,747.72L1478.81,732.32L1480.09,715.59L1481.37,697.35L1482.65,677.38L1483.92,655.41L1485.20,631.12L1486.48,604.13L1487.75,573.93L1489.03,539.92L1490.31,501.31L1491.58,457.06L1492.86,405.83L1494.14,345.79L1495.41,274.37L1496.69,187.96L1497.97,81.12L1499.24,-54.53L1500.52,-232.83L1501.80,-478.30" stroke="#E7298A"/>
</g></g>
<!-- x axis tick labels -->
<g filter="url(#bw)">
<text transform="translate(223,1289.6) rotate(0.04) scale(0.93,1.0)" x="1.41 27 41.19" y="0" font-size="45.2">0.0</text>
<text transform="translate(504,1289.6) rotate(0.04) scale(0.93,1.0)" x="1.36 27 40.12" y="0" font-size="45.2">0.2</text>
<text transform="translate(785,1289.6) rotate(0.04) scale(0.93,1.0)" x="1.36 27.05 39.78" y="0" font-size="45.2">0.4</text>
<text transform="translate(1066,1289.6) rotate(0.04) scale(0.93,1.0)" x="1.36 27.05 39.48" y="0" font-size="45.2">0.6</text>
<text transform="translate(1347,1289.6) rotate(0.04) scale(0.93,1.0)" x="1.36 27 40.12" y="0" font-size="45.2">0.8</text>
<g transform="translate(1630,1289.6) rotate(0.04) scale(0.93,1.0)"><text x="-0.71 24.9 37.97" y="0" font-size="45.2" clip-path="url(#c1x)">1.0</text></g>
</g>
<!-- y axis tick labels -->
<g filter="url(#bw)">
<text transform="translate(134.6,1152) rotate(-90.04) scale(0.93,1.0)" x="-12.57" y="0" font-size="45.2">0</text>
<g transform="translate(134.6,881.5) rotate(-90.04) scale(0.93,1.0)"><text x="-9.85" y="0" font-size="45.2" clip-path="url(#c1y)">1</text></g>
<text transform="translate(134.6,610) rotate(-90.04) scale(0.93,1.0)" x="-12.57" y="0" font-size="45.2">2</text>
<text transform="translate(134.6,337) rotate(-90.04) scale(0.93,1.0)" x="-12.44" y="0" font-size="45.2">3</text>
<text transform="translate(134.6,65.5) rotate(-90.04) scale(0.93,1.0)" x="-12.43" y="0" font-size="45.2">4</text>
</g>
<!-- axis titles -->
<g filter="url(#bw)">
<text class="sym" transform="translate(945,1384.35) rotate(0.04) scale(1.048,1)" x="-3.59" y="0" font-size="55.7">ρ</text>
<text transform="translate(69.5,656) rotate(-90.04)" y="0" font-size="51.2"><tspan x="-3.3" y="0.2">p</tspan><tspan class="sym" font-size="63.3" x="26.08" y="0" textLength="22.13" lengthAdjust="spacingAndGlyphs">(</tspan><tspan class="sym" font-size="56.2" x="46.2" y="0.8" textLength="29.39" lengthAdjust="spacingAndGlyphs">ρ</tspan><tspan class="sym" font-size="63.3" x="74.86" y="0" textLength="22.13" lengthAdjust="spacingAndGlyphs">)</tspan></text>
</g>
<!-- legend -->
<rect x="149" y="1464.5" width="1510" height="83.5" fill="#fff" stroke="#000" stroke-width="3.5" stroke-linejoin="round" shape-rendering="crispEdges"/>
<path d="M163.86,1506H221.59" transform="scale(1.1,1)" stroke="#E7298A" stroke-width="6.3" stroke-linecap="round" fill="none" shape-rendering="crispEdges"/>
<path d="M503.5,1506H561.23" transform="scale(1.1,1)" stroke="#1B9E77" stroke-width="6.3" stroke-linecap="round" fill="none" shape-rendering="crispEdges"/>
<path d="M843.77,1506H901.5" transform="scale(1.1,1)" stroke="#D95F02" stroke-width="6.3" stroke-linecap="round" fill="none" shape-rendering="crispEdges"/>
<path d="M1182.95,1506H1240.68" transform="scale(1.1,1)" stroke="#7570B3" stroke-width="6.3" stroke-linecap="round" fill="none" shape-rendering="crispEdges"/>
<g filter="url(#bw)">
<text transform="translate(273,1519) rotate(0.04)" x="2.06 20.43 32.31 41.6 60.39 70.32 91.01 100.44 120.42 141.43 171.53 202.42" y="0" font-size="37.2">Triple gamma</text>
<text transform="translate(650,1519) rotate(0.04)" x="-1.05 25.44 46.53 57.96 76.42 95.96 115.42 135.44 155.42" y="0" font-size="37.2">Horseshoe</text>
<text transform="translate(1024,1519) rotate(0.04)" x="-1.05 25.44 45.58 66.6 84.49 93.42 114.11 124.44 144.42 165.53 195.53 226.42" y="0" font-size="37.2">Double gamma</text>
<text transform="translate(1397,1519) rotate(0.04)" x="-1.05 20.42 39.96 57.96 76.44" y="0" font-size="37.2">Lasso</text>
</g>
</svg></body></html>
